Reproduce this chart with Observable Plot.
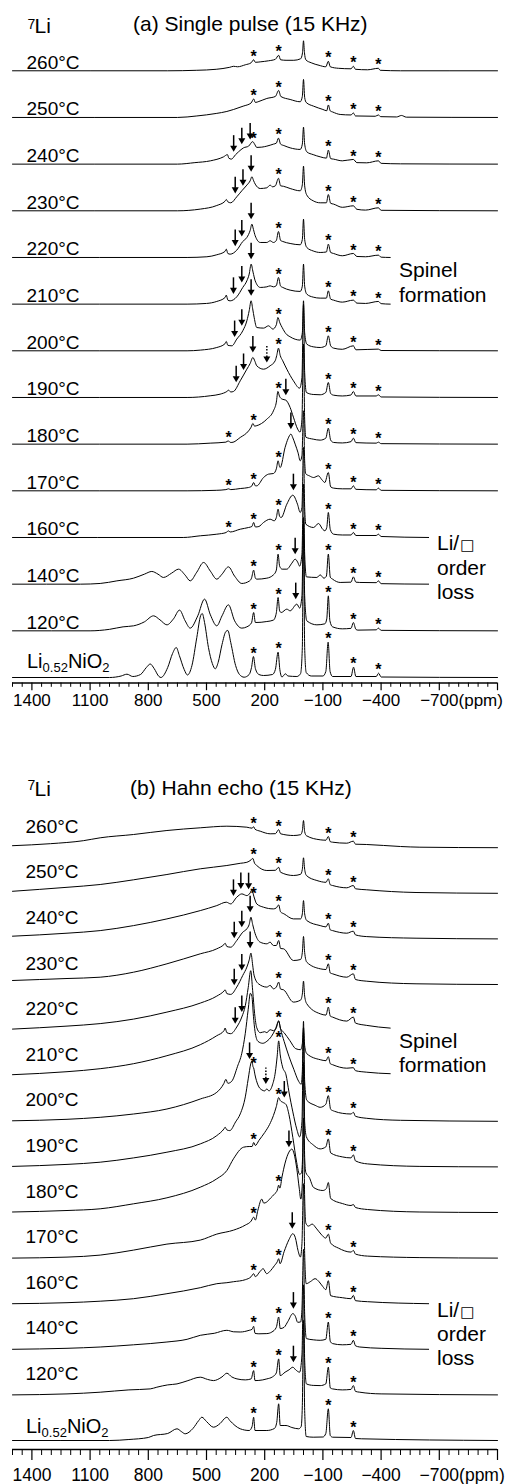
<!DOCTYPE html>
<html>
<head>
<meta charset="utf-8">
<script src="https://cdn.jsdelivr.net/npm/d3@7"></script>
<script src="https://cdn.jsdelivr.net/npm/@observablehq/plot@0.6"></script>
<style>
  html, body { margin: 0; padding: 0; background: #fff; }
  #chart { width: 508px; }
  #chart svg { display: block; }
</style>
</head>
<body>
<div id="chart"></div>
<script>
// ---------------------------------------------------------------------------
// 7Li MAS NMR spectra of Li0.52NiO2 heated to increasing temperatures.
// Each spectrum is a list of [shift (ppm), intensity] pairs; rows are stacked.
// ---------------------------------------------------------------------------

const rowLabels = ["Li0.52NiO2", "120°C", "140°C", "160°C", "170°C", "180°C", "190°C",
                   "200°C", "210°C", "220°C", "230°C", "240°C", "250°C", "260°C"];

const majorTicks = [1400, 1100, 800, 500, 200, -100, -400, -700];

// ---- (a) single pulse ------------------------------------------------------
const aLi = [[1500,0],[1000,0],[940,1.5],[910,3.3],[880,1],[840,3],[810,10],[790,13.5],[770,9],[745,1],[735,0],[700,10],[675,24],[656,30],[640,22],[615,8],[598,2.5],[575,12],[550,40],[530,62],[522,64],[510,55],[490,30],[470,14],[455,8.7],[440,15],[420,33],[400,46],[390,47],[375,35],[350,12],[330,3],[306,0.3],[280,3],[268,10],[258,21],[248,9],[230,3],[206,2],[160,3],[145,8],[131,25.3],[122,8],[111,0.5],[93,3.7],[80,1.5],[34,1],[15,4],[6,30],[0,160],[-6,30],[-14,5],[-40,1.5],[-100,1.5],[-115,6],[-127,35.3],[-137,6],[-150,1],[-245,1],[-258,10.3],[-270,1],[-375,1],[-387,4.3],[-400,0.5],[-1000,0]];
const a120 = [[1500,0],[1100,0],[1000,1.5],[930,4],[876,5],[820,9],[773,15],[740,11],[704,6],[670,12],[639,20.7],[610,10],[584,2.7],[545,15],[510,31.7],[480,16],[447,5],[420,15],[387,26],[355,10],[318,2.7],[292,4],[268,8],[257,18.3],[248,8.3],[189,9.3],[155,10.7],[140,18],[131,33.3],[123,20],[115,18.3],[86,21.7],[69,20],[34,26.7],[20,22.7],[8,35],[0,110],[-6,35],[-17,10],[-69,6],[-110,7],[-120,12],[-128,35],[-136,10],[-150,4],[-200,2],[-245,2.5],[-257,8.3],[-270,1.5],[-280,0.7],[-375,1],[-386,2.7],[-400,0.5],[-1000,0]];
const a140 = [[1500,0],[1150,0],[1048,0.7],[962,3.3],[876,6],[820,10],[782,12.7],[750,10],[722,6.7],[680,11],[644,15],[610,9],[584,3.3],[550,12],[515,21.7],[480,13],[447,5],[420,10],[387,17.3],[355,8],[318,0.7],[280,3],[268,6],[257,14],[248,6],[241,5],[189,6],[155,9.3],[140,14],[131,30],[123,18],[110,15],[86,15],[60,21],[43,25],[30,22],[20,18],[8,30],[0,100],[-6,30],[-15,7.3],[-69,6.7],[-86,9.3],[-105,6],[-118,8],[-128,30],[-138,7],[-150,5],[-189,1.7],[-245,2],[-257,7.3],[-270,2],[-290,1.7],[-375,1.5],[-386,3.3],[-400,0.5],[-645,0]];
const a160 = [[1500,0],[620,0],[532,1.7],[447,3.3],[398,5],[388,6.7],[378,5.5],[326,8.3],[283,10],[266,11],[257,15],[248,10.5],[230,11],[206,15],[172,18.3],[151,16.7],[140,20],[131,28.3],[123,21],[115,20],[86,33.3],[55,42.3],[31,33.3],[17,25],[8,30],[0,90],[-6,30],[-12,13.3],[-52,10],[-77,14],[-100,8],[-110,6.7],[-120,10],[-128,25],[-138,8],[-155,3.3],[-200,2.5],[-245,2.5],[-257,5],[-270,2],[-375,2],[-386,3.3],[-400,1],[-645,0]];
const a170 = [[1500,0],[600,0],[450,0.5],[400,1.2],[386,2],[375,1.2],[326,2.3],[283,3.3],[266,5],[257,8.3],[248,5],[241,5],[206,13.3],[180,16.7],[155,17.3],[140,22],[131,30],[123,24],[120,23.3],[95,43.3],[80,52],[65,56.7],[55,53],[43,46.7],[28,38],[17,30],[8,35],[0,80],[-6,30],[-12,17],[-30,15],[-52,13.3],[-77,15],[-95,11],[-110,8.3],[-128,18.3],[-140,4],[-155,2.7],[-200,2],[-245,2],[-257,5],[-270,1.5],[-375,1],[-386,2.7],[-400,0.5],[-1000,0]];
const a180 = [[1500,0],[600,0],[481,1],[400,2],[388,3.3],[378,1.8],[369,1.7],[326,6.7],[283,13.3],[270,17],[261,20.7],[252,18],[244,18.3],[189,25],[155,33.3],[140,42],[132,52.7],[124,48],[110,45],[91,44],[69,36.7],[52,27],[30,15],[18,12],[8,25],[0,100],[-6,25],[-12,7],[-50,5],[-86,4],[-115,6],[-128,16],[-140,4],[-155,1.7],[-200,1.2],[-245,2.5],[-257,6],[-270,1.5],[-375,1],[-386,2],[-400,0.5],[-1000,0]];
const a190 = [[1500,0],[600,0],[481,1.7],[430,3.3],[395,6],[386,7.3],[375,5.5],[361,6],[326,16.7],[292,28.3],[275,34],[261,40],[250,36],[241,31.7],[206,28.3],[172,31.7],[146,36.7],[138,42],[129,49.3],[120,42],[107,36.7],[86,28.3],[52,16.7],[20,9.3],[8,20],[0,93],[-6,25],[-15,5],[-50,3],[-86,2.7],[-115,5],[-128,15],[-140,4],[-155,2.3],[-200,1.5],[-245,2.5],[-257,6],[-270,1.5],[-375,1.5],[-386,2.7],[-400,0.5],[-1000,0]];
const a200 = [[1500,0],[600,0],[532,0.7],[447,3.3],[405,7],[398,9.3],[390,5.5],[369,5],[344,11.7],[313,20],[292,30],[280,40],[270,50],[262,42],[254,33],[241,23.3],[206,22.7],[180,25],[158,21.7],[140,26],[132,33.3],[122,28],[110,23.3],[90,17],[69,14],[17,10.7],[6,18],[0,50],[-6,18],[-17,6.7],[-50,4],[-86,3.3],[-115,5],[-128,15],[-140,5],[-155,2.7],[-200,1.5],[-257,5],[-270,1],[-386,1.7],[-400,0.3],[-1000,0]];
const a210 = [[1500,0],[600,0],[500,0.7],[447,2.7],[405,6.5],[398,9],[390,4],[378,3.3],[344,7.3],[313,16.7],[292,23.3],[280,30],[270,40],[260,32],[249,23.3],[223,16.7],[189,17.3],[172,18.3],[155,17.3],[140,18.5],[129,26.7],[118,18],[107,16.7],[69,14],[17,12.7],[6,18],[0,40],[-6,18],[-17,10],[-50,7],[-86,6],[-118,6],[-128,13.3],[-140,5],[-155,4],[-200,2],[-257,4],[-275,1],[-320,0.7],[-386,2.7],[-400,0.5],[-447,0]];
const a220 = [[1500,0],[600,0],[498,0.7],[447,2.7],[405,6],[398,8.3],[390,4],[378,3.3],[344,7.3],[313,16],[292,20],[275,27],[266,33.3],[258,28],[249,21.7],[223,15],[189,15],[172,16.7],[155,15],[140,17],[129,26],[118,17],[107,16],[69,14],[17,12.7],[6,18],[0,38.3],[-6,18],[-17,10],[-50,6.5],[-86,5],[-118,5.5],[-128,13.3],[-140,5],[-155,4],[-200,1.7],[-257,4],[-275,1],[-320,0.7],[-386,2.3],[-400,0.3],[-447,0]];
const a230 = [[1500,0],[650,0],[532,1.7],[447,5.3],[405,9.5],[398,11.3],[390,9],[375,8],[344,14],[318,20],[292,25.7],[275,30],[266,34],[257,30],[249,26.7],[223,22.3],[189,23],[172,25.7],[160,24],[145,25],[129,32.5],[118,25],[103,24.5],[69,22.3],[17,20],[6,26],[0,44.7],[-6,25],[-17,15.7],[-50,10],[-86,8],[-118,8],[-128,16.3],[-140,7.5],[-155,6.7],[-200,3.5],[-257,5],[-275,1.5],[-320,0.7],[-386,3],[-400,0.5],[-1000,0]];
const a240 = [[1500,0],[650,0],[560,1.5],[480,3.3],[412,7.3],[392,9.5],[385,6],[372,5],[350,9.5],[335,12.3],[309,16.3],[283,18],[262,22.5],[252,20],[241,16.7],[215,17],[189,18],[155,20],[140,21],[129,26],[118,20],[100,18.5],[69,16.3],[17,14.7],[6,20],[0,37],[-6,20],[-17,12.3],[-50,9.5],[-86,7.3],[-118,6],[-128,14],[-140,5.5],[-155,5],[-200,3.3],[-257,4.7],[-275,1.5],[-326,1.3],[-386,3.3],[-400,0.8],[-500,0.3],[-1000,0]];
const a250 = [[1500,0],[650,0],[550,1.5],[450,4],[395,6],[360,8],[311,11.3],[270,14.5],[257,18.5],[248,15],[230,16],[189,19],[145,21],[128,27],[117,21],[69,18],[17,15.7],[6,21],[0,38],[-6,20],[-14,15],[-52,11.3],[-100,8],[-120,6.7],[-128,12.5],[-138,6.5],[-150,5.5],[-189,3],[-245,2.5],[-257,4.5],[-268,1.5],[-370,1.2],[-386,2.5],[-398,0.8],[-480,0.5],[-505,2],[-530,0.3],[-1000,0]];
const a260 = [[1500,0],[700,0],[550,0.5],[450,1.5],[380,3.5],[360,4.5],[340,4],[300,6],[270,8],[257,11],[248,8.5],[220,9],[180,10],[145,11.5],[128,15.5],[118,11],[90,10.5],[50,10.5],[15,12],[5,18],[0,30],[-5,18],[-12,11],[-40,8],[-80,5.5],[-115,4],[-128,9.5],[-138,4],[-180,2.5],[-245,2],[-257,4.5],[-268,1.5],[-330,1],[-386,2.5],[-395,0.5],[-500,0],[-1000,0]];

// ---- (b) Hahn echo ---------------------------------------------------------
const bLi = [[1500,0],[1000,0],[900,1],[800,3],[773,5],[700,7],[652,11.7],[630,9],[610,6.7],[570,12],[540,20],[524,23.3],[500,19],[464,13.3],[430,17],[400,23],[395,23.3],[380,20],[326,11.7],[280,10],[265,14],[257,23.3],[250,10],[189,10],[150,12],[138,18],[128,36.7],[120,15],[100,15],[90,15],[60,13],[25,11.7],[12,14],[6,35],[0,120],[-6,30],[-14,4],[-50,3.3],[-100,3.5],[-115,7],[-128,31.7],[-138,5],[-150,3.3],[-245,3],[-257,10],[-268,2],[-300,1.7],[-1000,0]];
const b120 = [[1500,0],[1219,1],[1048,2.7],[900,5],[790,6],[756,7.7],[700,10],[652,11],[600,14],[532,17.7],[495,15.5],[464,14.3],[420,18],[395,21.7],[370,18],[343,16],[300,15],[270,16],[257,24.3],[250,14.3],[210,15],[189,16],[160,18],[140,22],[128,36],[120,19.3],[95,22.7],[75,25],[55,27.7],[40,25],[20,22.7],[8,40],[0,110],[-6,35],[-15,11],[-50,9.5],[-86,9.3],[-115,11],[-128,27.7],[-138,7],[-150,6],[-200,5],[-245,5.5],[-257,9.3],[-268,3.5],[-290,2.7],[-400,1],[-1000,0]];
const b140 = [[1500,0],[1219,1],[1048,2.3],[876,4.5],[704,7.3],[600,10],[532,14],[460,16],[395,19],[360,17.5],[326,17.3],[280,19],[265,20],[257,23],[250,16],[230,15.5],[189,15.7],[163,17.3],[140,22],[128,32.3],[120,20.7],[100,22],[80,28],[55,35.7],[42,33],[30,27],[15,27.3],[8,40],[0,100],[-6,35],[-15,10.7],[-50,9.5],[-86,9],[-115,10],[-128,27.3],[-138,8],[-150,5.7],[-200,4.5],[-245,5],[-257,9],[-268,3.5],[-290,2.3],[-400,1],[-645,0]];
const b160 = [[1500,0],[1219,1],[1048,2.5],[876,5],[704,10],[532,16],[447,20],[395,21],[360,22],[300,24],[270,27],[257,30],[248,27],[225,32],[208,35],[190,30],[170,33],[150,38],[135,42],[128,45],[121,40],[100,52],[75,64],[55,70],[42,66],[28,53],[16,46.7],[8,60],[0,120],[-6,50],[-14,20],[-35,22],[-60,25],[-80,22],[-100,17],[-115,14],[-128,23],[-140,8],[-200,6],[-245,5],[-257,8.3],[-268,3],[-330,2],[-645,0]];
const b170 = [[1500,0],[1219,1],[1048,3],[876,8],[704,14],[532,18],[447,24],[360,28],[300,33],[270,37],[257,41],[248,38],[235,48],[215,59],[205,55],[190,56],[170,60],[150,64],[135,68],[128,73],[122,70],[110,82],[95,95],[75,106],[60,109],[48,104],[35,90],[22,70],[14,59],[6,75],[0,140],[-6,60],[-12,35],[-25,32],[-45,34],[-65,30],[-90,24],[-115,20],[-128,24],[-140,15],[-180,10],[-245,6],[-257,7.7],[-268,4],[-330,2],[-600,0.5],[-1000,0]];
const b180 = [[1500,0.5],[1219,2],[1048,3.7],[876,8.7],[704,14.7],[532,25.3],[447,33.7],[395,42],[361,53.7],[309,65.3],[280,66],[265,66],[257,70],[248,67],[230,72],[200,80],[175,88],[155,97],[140,106],[128,115],[120,112],[105,110],[90,108],[75,98],[55,75],[35,50],[20,38],[10,40],[4,60],[0,150],[-6,55],[-12,40],[-30,35],[-52,25],[-100,22],[-118,24],[-128,30],[-140,14],[-200,9],[-245,7],[-257,8],[-268,5],[-330,3],[-600,0.5],[-1000,0]];
const b190 = [[1500,0.5],[1219,2.5],[1048,4.7],[876,9],[704,14.7],[532,23],[447,31.3],[410,38],[404,39.7],[395,37],[380,36.3],[350,45],[326,53],[300,70],[285,88],[272,103],[266,106],[260,100],[257,99],[250,92],[235,82],[215,77],[200,76],[189,78],[178,76],[160,82],[145,95],[136,110],[128,126],[120,112],[108,100],[90,92],[75,75],[55,55],[35,38],[20,30],[8,45],[0,135],[-6,45],[-15,30],[-50,22],[-86,18],[-115,20],[-128,28],[-140,14],[-200,10],[-245,9],[-257,12],[-268,6],[-330,3],[-600,0.5],[-1000,0]];
const b200 = [[1500,0.5],[1219,2],[1048,4],[876,7.3],[704,12.3],[532,22.3],[447,29],[410,38],[400,42],[390,38],[370,40],[340,55],[318,68],[300,88],[285,112],[274,128],[266,125],[258,105],[250,90],[235,80],[210,78],[189,80],[165,85],[145,92],[128,100],[118,92],[100,80],[75,65],[50,52],[25,40],[12,37],[6,50],[0,100],[-6,40],[-17,21],[-60,16],[-86,14],[-115,17],[-128,25.7],[-140,12],[-160,10],[-200,8],[-245,7.3],[-257,9],[-268,5],[-326,3],[-500,1],[-1000,0]];
const b210 = [[1500,1],[1219,4],[1048,7],[876,12],[704,20],[532,31],[447,40],[410,45],[404,47.7],[395,43],[375,42],[344,48.7],[318,58.7],[300,70],[285,88],[272,105],[262,85],[252,62],[241,48],[223,43],[200,44],[189,43],[172,46],[155,45],[140,48],[128,55],[118,47],[100,43],[70,35],[40,27],[15,26],[6,32],[0,48],[-6,30],[-17,22],[-86,16],[-116,15],[-128,19],[-138,12],[-150,11],[-223,7.5],[-257,8],[-268,5],[-326,3.5],[-447,2]];
const b220 = [[1500,1],[1219,4],[1048,6.5],[876,11],[704,18],[532,27],[447,34],[410,39],[404,40.3],[395,36.5],[375,35.7],[344,43],[313,54.7],[292,63],[280,70],[271,77],[262,65],[255,55],[232,46.3],[189,43],[172,44.7],[155,41.3],[140,43],[128,48],[118,41],[103,40.3],[52,28],[15,30],[6,36],[0,49],[-6,34],[-17,26.3],[-86,16.3],[-116,15],[-128,23],[-138,14],[-150,13],[-223,9],[-257,13],[-268,7],[-326,4.7],[-447,2]];
const b230 = [[1500,4],[1219,6],[1048,7.3],[876,12.3],[704,20.7],[532,30.7],[447,35.7],[410,40],[404,41.3],[395,38],[375,37.3],[344,44],[313,52.3],[292,55.7],[280,60],[271,67.3],[262,60],[249,50.7],[223,42.3],[189,40.7],[172,42.3],[155,39],[140,39],[128,44],[118,36],[103,35.7],[52,24],[15,25],[6,32],[0,48],[-6,32],[-17,22.3],[-86,15.7],[-116,15],[-128,20.7],[-138,11.5],[-150,10.7],[-223,7.3],[-257,10.7],[-268,5],[-326,3.3],[-580,0.7],[-1000,0]];
const b240 = [[1500,2.7],[1219,5.7],[1048,8.3],[876,13.3],[704,20],[532,28.3],[447,33.3],[398,36.7],[375,35],[344,41.7],[318,45],[292,43.3],[275,46],[266,49],[255,42],[241,35],[206,31.7],[155,30],[140,31],[128,34],[118,27],[100,25],[52,20],[15,20],[6,25],[0,38.3],[-6,25],[-17,18.3],[-86,13.3],[-116,12],[-128,15.7],[-138,9],[-150,8.3],[-223,5.7],[-257,7.7],[-268,4],[-326,2.3],[-580,0.7],[-1000,0]];
const b250 = [[1500,2],[1219,6],[1048,8.8],[876,13.5],[704,18.8],[532,24.5],[395,27.8],[326,30],[292,31],[270,33.5],[262,35],[252,30],[241,27.8],[189,22.8],[145,23],[128,26],[118,21],[52,17.8],[15,19],[6,24],[0,35.5],[-6,24],[-15,17.8],[-69,12.8],[-116,11],[-128,14.5],[-138,8.5],[-150,7.8],[-223,5.5],[-257,7.8],[-268,4.5],[-326,3.5],[-580,0.8],[-1000,0]];
const b260 = [[1500,2],[1305,4],[1135,7],[1048,9.9],[876,13.2],[704,17.2],[532,19.9],[395,21.5],[292,20.5],[265,19.5],[257,21],[250,18.5],[223,16.5],[172,13.9],[145,14],[128,18],[118,13.9],[52,12.2],[15,13],[6,17],[0,27.2],[-6,16],[-15,12],[-86,7.9],[-116,7.5],[-128,11.2],[-138,6],[-150,5.5],[-223,4.5],[-257,6.5],[-268,3.5],[-326,3.2],[-500,1.2],[-600,0.5],[-1000,0]];

// ---- spinning sidebands (*) and arrows, per row ----------------------------
const starsA = [
  ["260°C", [257, 128, -128, -257, -386]], ["250°C", [257, 128, -128, -257, -386]],
  ["240°C", [257, 128, -128, -257, -386]], ["230°C", [128, -128, -257, -386]],
  ["220°C", [128, -128, -257, -386]], ["210°C", [128, -128, -257, -386]],
  ["200°C", [128, -128, -257, -386]], ["190°C", [128, -128, -257, -386]],
  ["180°C", [386, 257, 128, -128, -257, -386]], ["170°C", [386, 257, 128, -128, -257, -386]],
  ["160°C", [386, 257, 128, -128, -257, -386]], ["140°C", [257, 128, -128, -257, -386]],
  ["120°C", [257, 128, -128, -257, -386]], ["Li0.52NiO2", [257, 128, -128, -257, -386]]
];
const arrowsA = [
  ["240°C", [360, 318, 275]], ["230°C", [352, 312, 270]], ["220°C", [352, 318, 270]],
  ["210°C", [361, 318, 270]], ["200°C", [355, 318, 270]], ["190°C", [347, 309, 261]],
  ["180°C", [91]], ["170°C", [65]], ["160°C", [52]], ["140°C", [43]], ["120°C", [40]]
];
const dottedA = [["190°C", [189]]];

const starsB = [
  ["260°C", [257, 128, -128, -257]], ["250°C", [257, 128, -128, -257]],
  ["240°C", [257, 128, -128, -257]], ["230°C", [128, -128, -257]],
  ["220°C", [128, -128, -257]], ["210°C", [128, -128, -257]],
  ["200°C", [-128, -257]], ["190°C", [257, 128, -128, -257]],
  ["180°C", [257, 128]], ["170°C", [257, 128, -128, -257]],
  ["160°C", [257, 128, -128, -257]], ["140°C", [257, 128, -128, -257]],
  ["120°C", [257, 128, -128, -257]], ["Li0.52NiO2", [257, 128, -128, -257]]
];
const arrowsB = [
  ["240°C", [361, 323, 283]], ["230°C", [357, 318, 275]], ["220°C", [357, 318, 275]],
  ["210°C", [352, 318]], ["190°C", [278]], ["180°C", [99]], ["170°C", [75]],
  ["160°C", [58]], ["140°C", [52]], ["120°C", [52]]
];
const dottedB = [["190°C", [194]]];

// ---------------------------------------------------------------------------
const FONT = "'Liberation Sans', Arial, Helvetica, sans-serif";

// height of a spectrum at (or close to) a given shift
function peakNear(data, ppm) {
  let best = -Infinity;
  for (const [p, v] of data) if (Math.abs(p - ppm) <= 6) best = Math.max(best, v);
  if (best > -Infinity) return best;
  for (let k = 1; k < data.length; k++) {
    const [p0, v0] = data[k - 1], [p1, v1] = data[k];
    if ((p0 - ppm) * (p1 - ppm) <= 0) return v0 + (v1 - v0) * (ppm - p0) / (p1 - p0);
  }
  return 0;
}

function drawPanel(cfg) {
  const rows = cfg.spectra.map((data, i) => ({label: rowLabels[i], data, b: cfg.base(i)}));
  const byLabel = new Map(rows.map(r => [r.label, r]));
  const points = rows.flatMap(r => r.data.map(([ppm, v]) => ({row: r.label, ppm, y: r.b + v})));

  const place = list => list.flatMap(([lab, shifts]) => {
    const r = byLabel.get(lab);
    return shifts.map(ppm => ({ppm, y: r.b + peakNear(r.data, ppm)}));
  });
  const stars = place(cfg.stars);
  const arrows = place(cfg.arrows);
  const dotted = place(cfg.dotted);
  const heads = arrows.concat(dotted);

  const plotH = cfg.height - cfg.marginBottom;
  const minorTicks = d3.range(1500, -1001, -50).filter(v => !majorTicks.includes(v) && v !== -1000);
  const fmt = d => (d < 0 ? "\u2212" + (-d) : String(d));
  const gap = 5;

  const svg = Plot.plot({
    width: 508,
    height: cfg.height,
    marginLeft: 12,
    marginRight: 11,
    marginTop: 0,
    marginBottom: cfg.marginBottom,
    x: {domain: [1500, -1000], axis: null},
    y: {domain: [0, plotH], axis: null},
    style: {fontFamily: FONT, color: "#000", background: "#fff", overflow: "visible"},
    marks: [
      // x axis: base line, ticks and labels
      Plot.ruleY([0], {stroke: "#000", strokeWidth: 1.3}),
      Plot.ruleX(minorTicks, {x: d => d, y1: 0, y2: -cfg.tick.minor, stroke: "#000", strokeWidth: 1}),
      Plot.ruleX(majorTicks.concat([-1000]), {x: d => d, y1: 0, y2: -cfg.tick.major, stroke: "#000", strokeWidth: 1.2}),
      Plot.text(majorTicks, {x: d => d, y: -cfg.tick.labelTop, text: fmt, lineAnchor: "top",
                             fontSize: cfg.tick.font, fill: "#000"}),
      Plot.text(["(ppm)"], {x: () => majorTicks[majorTicks.length - 1], y: -cfg.tick.labelTop, text: d => d,
                            dx: cfg.tick.font * 1.13, textAnchor: "start", lineAnchor: "top",
                            fontSize: cfg.tick.font, fill: "#000"}),
      // stacked spectra
      Plot.line(points, {x: "ppm", y: "y", z: "row", curve: "monotone-x", stroke: "#000", strokeWidth: 1}),
      // temperature labels
      Plot.text(rows.slice(1), {frameAnchor: "left", dx: cfg.labelDx, y: r => r.b + cfg.labelLift,
                                text: "label", textAnchor: "start", lineAnchor: "bottom",
                                fontSize: 19, fill: "#000"}),
      // sideband markers
      Plot.text(stars, {x: "ppm", y: d => d.y + 3, text: () => "*", lineAnchor: "middle",
                        fontSize: 16, fontWeight: "bold", fill: "#000"}),
      // arrows
      Plot.ruleX(arrows, {x: "ppm", y1: d => d.y + gap + 5, y2: d => d.y + gap + 16, stroke: "#000", strokeWidth: 1.5}),
      Plot.ruleX(dotted, {x: "ppm", y1: d => d.y + gap + 5, y2: d => d.y + gap + 16, stroke: "#000",
                          strokeWidth: 1.5, strokeDasharray: "1.6,1.6"}),
      Plot.dot(heads, {x: "ppm", y: d => d.y + gap + 4, symbol: "triangle", rotate: 180, r: 2.6,
                       fill: "#000", stroke: "none"})
    ]
  });

  // headings and annotations (left-aligned text)
  const s = d3.select(svg).append("g")
    .attr("font-family", FONT).attr("fill", "#000").attr("text-anchor", "start");
  const t = cfg.text;
  s.append("text").attr("x", t.sup[0]).attr("y", t.sup[1]).attr("font-size", 14).text("7");
  s.append("text").attr("x", t.li[0]).attr("y", t.li[1]).attr("font-size", 21).text("Li");
  s.append("text").attr("x", t.title[0]).attr("y", t.title[1]).attr("font-size", 21).text(t.titleText);
  s.append("text").attr("x", t.spinel[0]).attr("y", t.spinel[1]).attr("font-size", 21).text("Spinel");
  s.append("text").attr("x", t.spinel[0]).attr("y", t.spinel[1] + t.spinel[2]).attr("font-size", 21).text("formation");
  const lv = s.append("text").attr("x", t.order[0]).attr("y", t.order[1]).attr("font-size", 21);
  lv.append("tspan").text("Li/");
  lv.append("tspan").attr("font-family", "'DejaVu Sans', sans-serif").attr("font-size", 15).attr("dx", 1).text("\u25A1");
  s.append("text").attr("x", t.order[0]).attr("y", t.order[1] + t.order[2]).attr("font-size", 21).text("order");
  s.append("text").attr("x", t.order[0]).attr("y", t.order[1] + 2 * t.order[2]).attr("font-size", 21).text("loss");

  // parent compound label, with subscripts
  const yScale = d3.scaleLinear().domain([0, plotH]).range([plotH, 0]);
  const f = s.append("text").attr("x", 12 + cfg.labelDx + 1)
    .attr("y", yScale(rows[0].b + cfg.formulaLift)).attr("font-size", 20);
  f.append("tspan").text("Li");
  f.append("tspan").attr("font-size", 13).attr("dy", 4).text("0.52");
  f.append("tspan").attr("dy", -4).text("NiO");
  f.append("tspan").attr("font-size", 13).attr("dy", 4).text("2");

  return svg;
}

const chart = document.getElementById("chart");

chart.appendChild(drawPanel({
  spectra: [aLi, a120, a140, a160, a170, a180, a190, a200, a210, a220, a230, a240, a250, a260],
  height: 726, marginBottom: 43.5,
  base: i => 5.5 + 46.67 * i,
  labelDx: 14, labelLift: 2, formulaLift: 8.7,
  stars: starsA, arrows: arrowsA, dotted: dottedA,
  tick: {major: 7.7, minor: 4.3, labelTop: 11.3, font: 17},
  text: {sup: [27.5, 29.3], li: [34.5, 33.3], title: [133, 31], titleText: "(a) Single pulse (15 KHz)",
         spinel: [399, 277, 25], order: [437, 550, 24.5]}
}));

chart.appendChild(drawPanel({
  spectra: [bLi, b120, b140, b160, b170, b180, b190, b200, b210, b220, b230, b240, b250, b260],
  height: 758, marginBottom: 35,
  base: i => 9 + 45.6 * i,
  labelDx: 13, labelLift: 15, formulaLift: 6.7,
  stars: starsB, arrows: arrowsB, dotted: dottedB,
  tick: {major: 11, minor: 6, labelTop: 19, font: 17.5},
  text: {sup: [27.5, 64], li: [34.5, 70], title: [130, 69], titleText: "(b) Hahn echo (15 KHz)",
         spinel: [399, 322.3, 23.4], order: [437, 590.7, 24.3]}
}));
</script>
</body>
</html>
